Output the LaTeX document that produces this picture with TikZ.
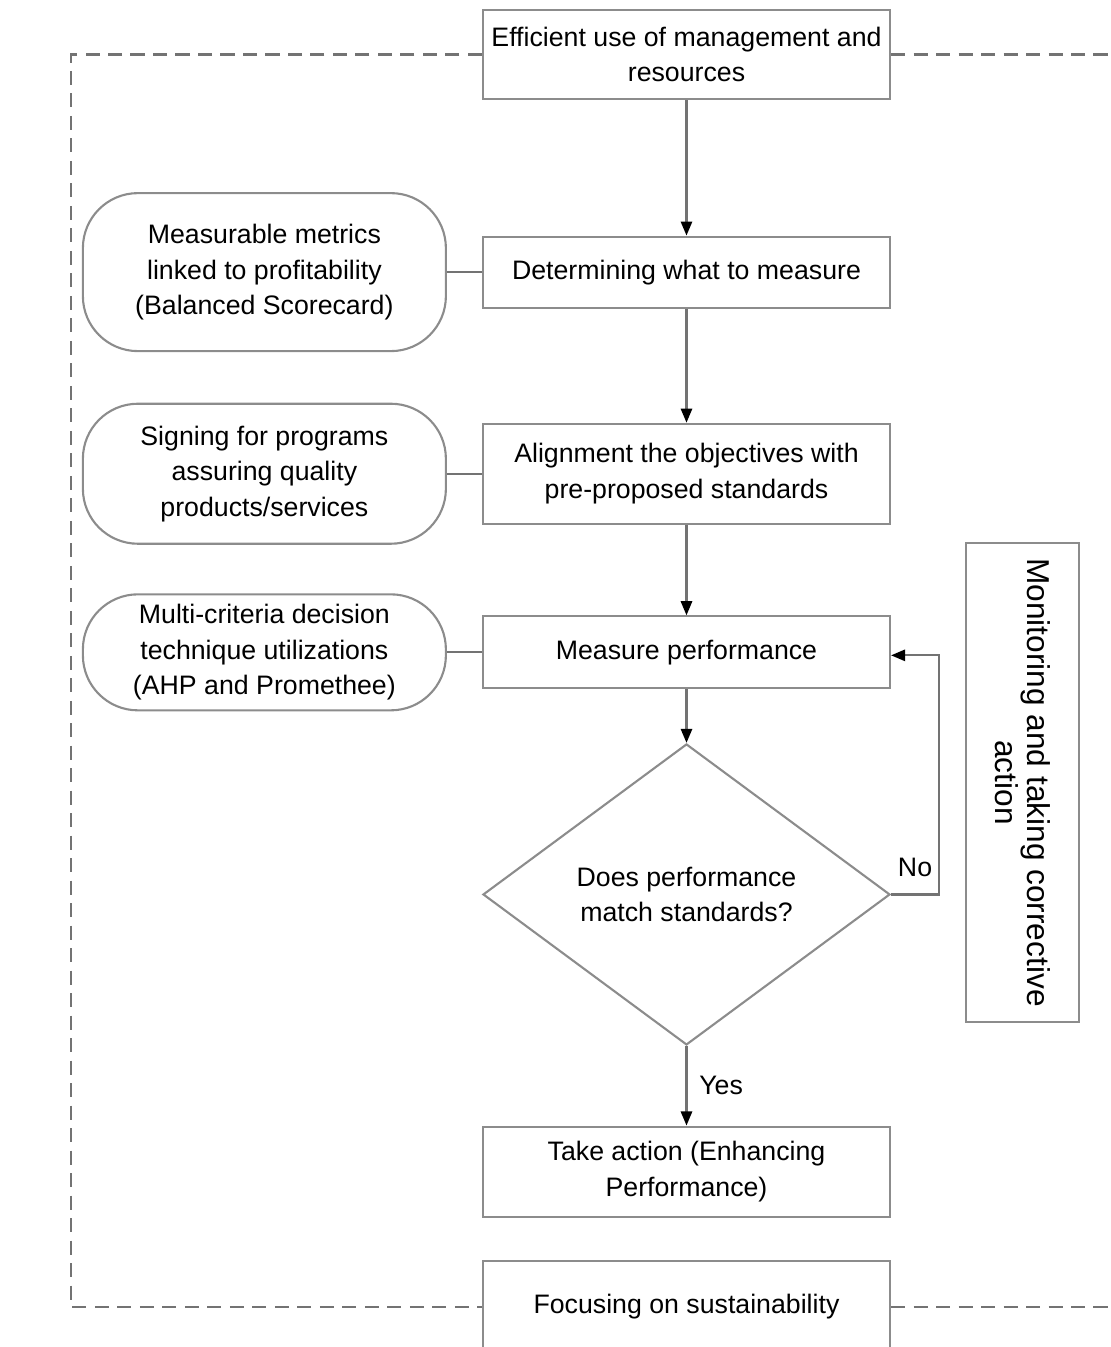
\documentclass[tikz,border=0pt]{standalone}
\usepackage{fontspec}
\setmainfont{Liberation Sans}
\usepackage{tikz}
\usetikzlibrary{shapes,arrows.meta,positioning,calc}

\begin{document}
\begin{tikzpicture}[
    box/.style={rectangle, draw=black!45, line width=0.6pt, minimum width=4.07cm, align=center, font=\fontsize{7.6}{10.1}\selectfont, inner sep=2pt},
    soft/.style={rectangle, draw=black!45, line width=0.6pt, minimum width=3.63cm, align=center, font=\fontsize{7.6}{10.1}\selectfont, inner ysep=1pt, rounded corners=0.55cm},
    dec/.style={diamond, draw=black!45, line width=0.6pt, minimum width=4.07cm, minimum height=3.01cm, inner sep=0pt, align=center, font=\fontsize{7.6}{10.1}\selectfont},
    arr/.style={-{Triangle[length=4pt, width=3.2pt, color=black]}, draw=black!55, line width=0.6pt},
    link/.style={draw=black!55, line width=0.6pt},
    frame/.style={draw=black!55, line width=0.6pt, dash pattern=on 4pt off 2.4pt},
    lbl/.style={font=\fontsize{7.6}{10.1}\selectfont}
]
\useasboundingbox (0,0) rectangle (11.1,-13.47);

% main column
\node[box, minimum height=0.89cm] (eff) at (6.865,-0.545) {Efficient use of management and\\resources};
\node[box, minimum height=0.71cm, below=1.355cm of eff] (det) {Determining what to measure};
\node[box, minimum height=1.00cm, below=1.14cm of det] (ali) {Alignment the objectives with\\pre-proposed standards};
\node[box, minimum height=0.72cm, below=0.905cm of ali] (meas) {Measure performance};
\node[dec, below=0.535cm of meas] (match) {Does performance\\match standards?};
\node[box, minimum height=0.90cm, below=0.795cm of match] (act) {Take action (Enhancing\\Performance)};
\node[box, minimum height=0.92cm, below=0.42cm of act] (sus) {Focusing on sustainability};
\draw[arr] (eff)--(det); \draw[arr] (det)--(ali); \draw[arr] (ali)--(meas); \draw[arr] (meas)--(match);
\draw[arr] (match) -- node[lbl, right] {Yes} (act);
\draw[arr] (match.east) -- node[lbl, above=1.5pt] {No} ++(0.48,0) |- ([yshift=-0.03cm]meas.east);

% side notes
\node[soft, minimum height=1.58cm, left=0.35cm of det] (met) {Measurable metrics\\linked to profitability\\(Balanced Scorecard)};
\node[soft, minimum height=1.40cm, left=0.35cm of ali] (sig) {Signing for programs\\assuring quality\\products/services};
\node[soft, minimum height=1.16cm, left=0.35cm of meas] (mcd) {Multi-criteria decision\\technique utilizations\\(AHP and Promethee)};
\draw[link] (met)--(det); \draw[link] (sig)--(ali); \draw[link] (mcd)--(meas);

% monitoring box
\node[box, rotate=-90, minimum width=4.79cm, minimum height=1.13cm, font=\fontsize{9}{9.2}\selectfont] (mon) at (10.225,-7.825) {Monitoring and taking corrective\\action};

% dashed frame
\coordinate (fl) at (0.71,0);
\coordinate (fr) at (11.1,0);
\draw[frame] (eff.west) -| (sus.west -| fl) -- (sus.west);
\draw[frame] (eff.east) -- (eff.east -| fr);
\draw[frame] (sus.east) -- (sus.east -| fr);

\end{tikzpicture}
\end{document}
